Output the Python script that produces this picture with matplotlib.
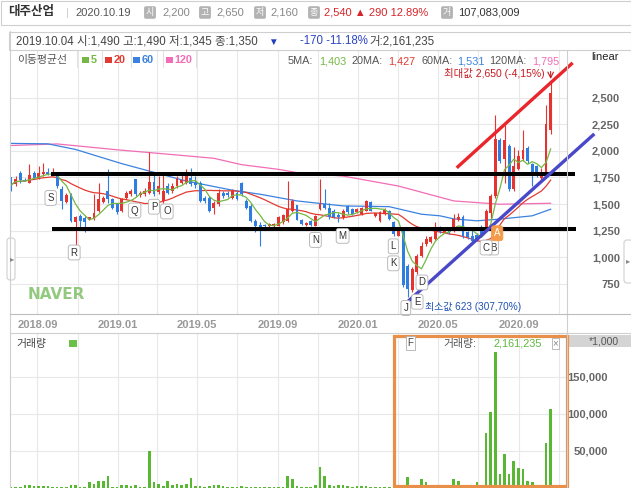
import numpy as np
import pandas as pd
import matplotlib
matplotlib.use("Agg")
import matplotlib.pyplot as plt
import matplotlib.dates as mdates
from matplotlib.patches import Rectangle, FancyBboxPatch

plt.rcParams['font.family'] = ['Liberation Sans', 'Noto Sans CJK KR', 'DejaVu Sans']

W, H = 631, 488

# 주봉 (2018.07.23 ~ 2020.10.19)
weeks = pd.date_range('2018-07-23', periods=118, freq='7D')
opens = [1754, 1686, 1795, 1730, 1701, 1795, 1748, 1779, 1801, 1785,
         1770, 1645, 1520, 1592, 1327, 1383, 1364, 1352, 1358, 1436,
         1520, 1623, 1545, 1499, 1436, 1561, 1592, 1733, 1583, 1592,
         1608, 1708, 1614, 1530, 1670, 1623, 1670, 1701, 1701, 1748,
         1708, 1701, 1561, 1561, 1467, 1499, 1608, 1608, 1561, 1608,
         1701, 1530, 1483, 1343, 1305, 1300, 1290, 1290, 1296, 1327,
         1343, 1436, 1490, 1349, 1300, 1343, 1296, 1452, 1499, 1467,
         1436, 1400, 1374, 1483, 1452, 1421, 1405, 1436, 1520, 1389,
         1343, 1405, 1436, 1327, 1202, 1265, 921, 687, 859, 1015,
         1124, 1140, 1171, 1271, 1240, 1260, 1249, 1350, 1380, 1233,
         1200, 1210, 1280, 1250, 1420, 1576, 2106, 1920, 2050, 1640,
         1830, 1920, 2030, 1875, 1860, 1740, 1790, 2200]
highs = [1758, 1764, 1811, 1745, 1873, 1811, 1857, 1889, 1842, 1842,
         1795, 1670, 1608, 1608, 1389, 1405, 1389, 1380, 1592, 1701,
         1577, 1826, 1561, 1514, 1561, 1623, 1639, 1739, 1623, 1655,
         1988, 1795, 1764, 1795, 1701, 1701, 1764, 1779, 1826, 1842,
         1764, 1717, 1577, 1577, 1530, 1639, 1623, 1620, 1639, 1620,
         1708, 1545, 1499, 1358, 1327, 1310, 1320, 1320, 1389, 1405,
         1717, 1545, 1490, 1360, 1330, 1350, 1396, 1733, 1639, 1514,
         1450, 1420, 1450, 1490, 1460, 1465, 1475, 1536, 1530, 1420,
         1430, 1467, 1446, 1343, 1280, 1271, 937, 906, 1031, 1140,
         1202, 1200, 1327, 1290, 1280, 1275, 1405, 1420, 1400, 1245,
         1265, 1230, 1300, 1450, 1590, 2340, 2122, 2240, 2060, 2040,
         2010, 2200, 2045, 1890, 1870, 1840, 2434, 2650]
lows = [1623, 1670, 1701, 1712, 1695, 1733, 1739, 1764, 1770, 1775,
        1655, 1452, 1514, 1333, 1077, 1280, 1233, 1345, 1352, 1427,
        1514, 1514, 1452, 1405, 1421, 1545, 1577, 1577, 1570, 1577,
        1592, 1577, 1592, 1514, 1592, 1608, 1655, 1686, 1686, 1670,
        1655, 1520, 1514, 1421, 1405, 1483, 1561, 1570, 1545, 1540,
        1577, 1452, 1333, 1233, 1109, 1280, 1280, 1285, 1290, 1311,
        1333, 1427, 1345, 1300, 1295, 1295, 1290, 1446, 1452, 1358,
        1365, 1327, 1360, 1410, 1395, 1415, 1400, 1430, 1430, 1380,
        1335, 1400, 1350, 1202, 1195, 719, 623, 672, 843, 1000,
        1109, 1130, 1165, 1225, 1230, 1220, 1240, 1340, 1180, 1175,
        1140, 1150, 1200, 1240, 1360, 1560, 1890, 1700, 1620, 1620,
        1820, 1900, 1890, 1670, 1750, 1730, 1780, 2160]
closes = [1679, 1739, 1726, 1720, 1770, 1748, 1795, 1801, 1779, 1800,
          1670, 1530, 1583, 1343, 1374, 1343, 1327, 1374, 1414, 1545,
          1552, 1545, 1467, 1421, 1545, 1608, 1623, 1592, 1608, 1623,
          1708, 1592, 1670, 1623, 1608, 1670, 1733, 1726, 1779, 1686,
          1676, 1530, 1530, 1436, 1508, 1608, 1577, 1583, 1623, 1545,
          1592, 1467, 1343, 1296, 1271, 1290, 1311, 1311, 1374, 1396,
          1452, 1530, 1350, 1311, 1320, 1305, 1389, 1499, 1467, 1374,
          1374, 1374, 1436, 1421, 1405, 1452, 1467, 1530, 1436, 1414,
          1421, 1446, 1358, 1218, 1265, 734, 703, 890, 1015, 1109,
          1171, 1187, 1265, 1233, 1265, 1233, 1358, 1380, 1200, 1187,
          1155, 1170, 1220, 1430, 1576, 2107, 1904, 2100, 1640, 1860,
          1950, 2010, 1905, 1765, 1765, 1770, 2250, 2540]
# 거래량 (단위 1,000주)
volumes = [1500, 1200, 1500, 4000, 4000, 2500, 3000, 3000, 3000, 1500,
           1500, 2000, 1500, 4500, 4500, 1500, 1500, 7500, 4800, 8900,
           8900, 16600, 2000, 1200, 3500, 3500, 3000, 3500, 1200, 2000,
           50000, 7500, 5300, 2500, 9800, 4500, 5500, 4500, 5500, 13000,
           3000, 2500, 1200, 2500, 3500, 3500, 2500, 1000, 1000, 1000,
           2500, 800, 800, 800, 800, 800, 800, 800, 800, 800,
           16000, 11600, 2161, 800, 800, 800, 3500, 28000, 16700, 3500,
           3000, 3500, 3500, 3000, 1000, 3000, 2500, 3000, 800, 800,
           800, 2000, 800, 800, 800, 800, 15300, 800, 800, 11600,
           7500, 800, 800, 800, 800, 800, 12000, 9800, 800, 800,
           800, 7500, 800, 74700, 102700, 183400, 18500, 45900, 19000, 36400,
           27300, 25500, 8900, 8200, 800, 800, 61200, 107083]

# 60/120 이동평균 (그림에서 읽은 값, 주 번호 기준)
ma60_week = [0, 8, 14, 24, 31, 38, 48, 54, 62, 72, 82, 89, 93, 96, 101, 106, 113, 117]
ma60_val = [2070, 2066, 2013, 1880, 1798, 1716, 1630, 1592, 1529, 1482, 1475, 1404,
            1389, 1360, 1342, 1358, 1389, 1451]
ma120_week = [0, 10, 23, 35, 44, 50, 58, 62, 72, 84, 96, 106, 117]
ma120_val = [2050, 2065, 2010, 1965, 1930, 1870, 1826, 1795, 1763, 1669, 1529, 1498, 1507]

# 사용자 표시 (라벨, 추세선)
label_txt = ['S', 'R', 'Q', 'P', 'O', 'N', 'M', 'L', 'K', 'J', 'E', 'D', 'B', 'C', 'A']
label_week = [8.6, 13.7, 26.8, 31.0, 33.8, 66.0, 71.9, 82.9, 82.9, 85.6, 88.1, 89.1, 104.5, 103.0, 105.4]
label_price = [1557, 1044, 1439, 1475, 1430, 1162, 1201, 1102, 942, 522, 581, 762, 1091, 1091, 1225]
hline_price = [1785, 1262]
hline_week = [[8.6, 122.2], [8.8, 122.6]]
red_week, red_price = [96.9, 121.5], [1851, 2817]
blue_week, blue_price = [86.4, 126.2], [597, 2149]

price_ticks = [750, 1000, 1250, 1500, 1750, 2000, 2250, 2500]
vol_ticks = [50000, 100000, 150000]
month_labels = ['2018-09-01', '2019-01-01', '2019-05-01', '2019-09-01',
                '2020-01-01', '2020-05-01', '2020-09-01']

RED, BLUE = '#e5332f', '#2f7de1'
G5, R20, B60, P120 = '#74b843', '#e23b32', '#3b82e0', '#f26db5'
VOLC = '#58b834'
GRID = '#e8e8e8'

fig = plt.figure(figsize=(W / 100, H / 100), dpi=100)
fig.patch.set_facecolor('white')


def px_axes(x0, y0, x1, y1, **kw):
    return fig.add_axes([x0 / W, 1 - y1 / H, (x1 - x0) / W, (y1 - y0) / H], **kw)


ax = px_axes(10, 50, 567, 314)
vax = px_axes(10, 333, 567, 488)

x = mdates.date2num(weeks)
t0 = x[0]
wk = lambda w: t0 + 7 * np.asarray(w, dtype=float)

o, h, l, c = map(np.array, (opens, highs, lows, closes))
col = np.where(c >= o, RED, BLUE)

ma5 = pd.Series(closes).rolling(5, min_periods=1).mean()
ma20 = pd.Series(closes).rolling(20, min_periods=1).mean()

ax.plot(wk(ma120_week), ma120_val, color=P120, lw=0.9, zorder=2)
ax.plot(wk(ma60_week), ma60_val, color=B60, lw=0.9, zorder=2)
ax.plot(x, ma20, color=R20, lw=0.9, zorder=2)
ax.vlines(x, l, h, colors=col, lw=0.8, zorder=3)
ax.bar(x, np.maximum(np.abs(c - o), 8), bottom=np.minimum(o, c), width=4.4,
       color=col, linewidth=0, zorder=4)
ax.plot(x, ma5, color=G5, lw=0.9, zorder=5)

# 추세선 / 수평선
for lv, (w0, w1) in zip(hline_price, hline_week):
    ax.plot(wk([w0, w1]), [lv, lv], color='black', lw=2.9, clip_on=False, zorder=6,
            solid_capstyle='butt')
ax.plot(wk(red_week), red_price, color='#e8262b', lw=2.4, clip_on=False, zorder=6)
ax.plot(wk(blue_week), blue_price, color='#4848c8', lw=2.4, clip_on=False, zorder=6)

# 최대/최소
imax, imin = int(np.argmax(h)), int(np.argmin(l))
ax.annotate('최대값 2,650 (-4,15%)', xy=(x[imax], h[imax]), xytext=(-6, 8),
            textcoords='offset pixels', ha='right', va='center', color='#c8191e',
            fontsize=7.5, annotation_clip=False, zorder=7)
ax.annotate('', xy=(x[imax], h[imax]), xytext=(0, 13), textcoords='offset pixels',
            arrowprops=dict(arrowstyle='->', color='#c8191e', lw=0.8), zorder=7)
ax.annotate('최소값 623 (307,70%)', xy=(x[imin], l[imin]), xytext=(17, -10),
            textcoords='offset pixels', ha='left', va='center', color='#1d4fb5',
            fontsize=7.2, annotation_clip=False, zorder=7)

for t, w, p in zip(label_txt, label_week, label_price):
    if t == 'A':
        bb = dict(boxstyle='round,pad=0.25', fc='#f59a48', ec='#f59a48', lw=0.6)
        tc = 'white'
    else:
        bb = dict(boxstyle='round,pad=0.25', fc='white', ec='#b0b0b0', lw=0.6)
        tc = '#333333'
    ax.text(wk(w), p, t, ha='center', va='center', fontsize=7, color=tc, bbox=bb,
            clip_on=False, zorder=8)

xmin, xmax = t0 - 1.5, t0 + 843.8
major = mdates.date2num(pd.to_datetime(month_labels))
minor = mdates.date2num(pd.date_range('2018-09-01', '2020-11-01', freq='2MS'))

ax.set_xlim(xmin, xmax)
ax.set_ylim(465.6, 2948.5)
ax.set_xticks(major)
ax.set_xticklabels([pd.Timestamp(d).strftime('%Y.%m') for d in month_labels], fontweight='bold')
ax.set_xticks(minor, minor=True)
ax.tick_params(axis='x', which='both', length=0, pad=4, labelsize=8, labelcolor='#999999')
ax.yaxis.tick_right()
ax.set_yticks(price_ticks)
ax.set_yticklabels([f'{v:,}' for v in price_ticks], ha='right', fontweight='bold')
ax.tick_params(axis='y', length=0, pad=38, labelsize=8, labelcolor='#666666')
ax.grid(True, which='both', axis='x', color=GRID, lw=0.8)
ax.grid(True, which='major', axis='y', color=GRID, lw=0.8)
ax.set_axisbelow(True)
for s in ax.spines.values():
    s.set_visible(False)

vax.bar(x, volumes, width=4.0, color=VOLC, linewidth=0)
vax.set_xlim(xmin, xmax)
vax.set_ylim(0, 209459)
vax.set_xticks(minor)
vax.set_xticklabels([])
vax.yaxis.tick_right()
vax.set_yticks(vol_ticks)
vax.set_yticklabels([f'{v:,}' for v in vol_ticks], ha='right', fontweight='bold')
vax.tick_params(axis='both', length=0)
vax.tick_params(axis='y', pad=29.5, labelsize=8, labelcolor='#666666')
vax.grid(True, color=GRID, lw=0.8)
vax.set_axisbelow(True)
for s in vax.spines.values():
    s.set_visible(False)

# 화면 요소 (픽셀 좌표)
ui = fig.add_axes([0, 0, 1, 1], zorder=10)
ui.set_xlim(0, W)
ui.set_ylim(H, 0)
ui.axis('off')
ui.patch.set_visible(False)

LINE = '#cfcfcf'
ui.add_patch(Rectangle((0.5, 0.5), 630, 24.5, fill=False, ec=LINE, lw=0.8))
ui.add_patch(Rectangle((8.5, 31.5), 622, 18.5, fill=False, ec=LINE, lw=0.8))
ui.plot([10, 10], [31, 488], color=LINE, lw=0.8)
ui.plot([567, 567], [50, 488], color=LINE, lw=0.8)
ui.plot([10, 631], [314, 314], color='#bdbdbd', lw=0.8)
ui.plot([10, 631], [333, 333], color=LINE, lw=0.8)
ui.add_patch(FancyBboxPatch((7, 238), 8, 42, boxstyle='round,pad=0,rounding_size=3',
                            fc='white', ec=LINE, lw=0.8))
ui.text(12, 260, '▸', fontsize=6, color='#888888', ha='center', va='center')
ui.add_patch(FancyBboxPatch((624, 240), 9, 43, boxstyle='round,pad=0,rounding_size=3',
                            fc='white', ec=LINE, lw=0.8))
ui.text(628, 262, '▸', fontsize=6, color='#888888', ha='center', va='center')

# 헤더
ui.text(8, 12.5, '대주산업', fontsize=9, fontweight='bold', color='#333333', va='center')
ui.text(66, 12.5, '|', fontsize=8, color='#cccccc', va='center')
ui.text(75, 12.5, '2020.10.19', fontsize=8, color='#555555', va='center')
icon_kw = dict(fontsize=6.5, color='white', va='center', ha='center',
               bbox=dict(boxstyle='round,pad=0.2', fc='#b3b3b3', ec='none'))
for xi, ch in [(150, '시'), (205, '고'), (260, '저'), (314, '종'), (447, '거')]:
    ui.text(xi, 12.5, ch, **icon_kw)
ui.text(162, 12.5, '2,200', fontsize=8, color='#888888', va='center')
ui.text(216, 12.5, '2,650', fontsize=8, color='#888888', va='center')
ui.text(270, 12.5, '2,160', fontsize=8, color='#888888', va='center')
ui.text(324, 12.5, '2,540 ▲ 290 12.89%', fontsize=8, color='#d6242a', va='center')
ui.text(458, 12.5, '107,083,009', fontsize=8, color='#333333', va='center')

ui.text(16, 41.5, '2019.10.04 시:1,490 고:1,490 저:1,345 종:1,350', fontsize=8.3,
        color='#444444', va='center')
ui.text(268, 41.5, '▼', fontsize=7, color='#1f3fbf', va='center')
ui.text(300, 41.5, '-170 -11.18%', fontsize=8.3, color='#2b45c0', va='center')
ui.text(369, 41.5, '거:2,161,235', fontsize=8.3, color='#444444', va='center')

# 이동평균 범례
ui.text(17, 60, '이동평균선', fontsize=7.8, color='#555555', va='center')
for xs, cc, lab in [(82, G5, '5'), (105, R20, '20'), (133, B60, '60'), (166, P120, '120')]:
    ui.add_patch(Rectangle((xs, 56.5), 6.5, 6.5, fc=cc, ec='none'))
    ui.text(xs + 8.5, 60, lab, fontsize=7.8, fontweight='bold', color=cc, va='center')
for xs in [77, 102, 131, 163, 196]:
    ui.plot([xs, xs], [51, 67], color='#e2e2e2', lw=0.8)
ma_txt = [(288, '5MA:', '#555555'), (319, '1,403', G5), (352, '20MA:', '#555555'),
          (388, '1,427', R20), (421, '60MA:', '#555555'), (457, '1,531', B60),
          (489, '120MA:', '#555555'), (532, '1,795', P120)]
for xs, tt, cc in ma_txt:
    ui.text(xs, 61.5, tt, fontsize=7.8, color=cc, va='center')
ui.text(605, 57, 'linear', fontsize=8, color='#222222', va='center', ha='center')

ui.text(28, 294.5, 'NAVER', fontsize=11, fontweight='bold', color='#93c97f',
        va='center', family='DejaVu Sans')

# 거래량 패널
ui.text(16, 344, '거래량', fontsize=7.8, color='#444444', va='center')
ui.add_patch(Rectangle((69, 339.5), 7.5, 7.5, fc='#6cc04a', ec='none'))
ui.add_patch(Rectangle((569, 334.5), 62, 12.5, fc='#d4d4d4', ec='none'))
ui.text(619, 341, '*1,000', fontsize=7.5, color='#555555', va='center', ha='right')
ui.add_patch(Rectangle((393.6, 336), 173, 150, fill=False, ec='#e8904a', lw=2.3))
ui.text(410.5, 343, 'F', fontsize=7, color='#444444', va='center', ha='center',
        bbox=dict(boxstyle='square,pad=0.2', fc='white', ec='#b0b0b0', lw=0.6))
ui.text(443, 344, '거래량:', fontsize=7.8, color='#555555', va='center')
ui.text(494, 343.5, '2,161,235', fontsize=7.8, color='#5cb83c', va='center')
ui.text(555.5, 343.5, '×', fontsize=7, color='#888888', va='center', ha='center',
        bbox=dict(boxstyle='square,pad=0.1', fc='white', ec='#b0b0b0', lw=0.6))

fig.savefig('out.png', dpi=100)
